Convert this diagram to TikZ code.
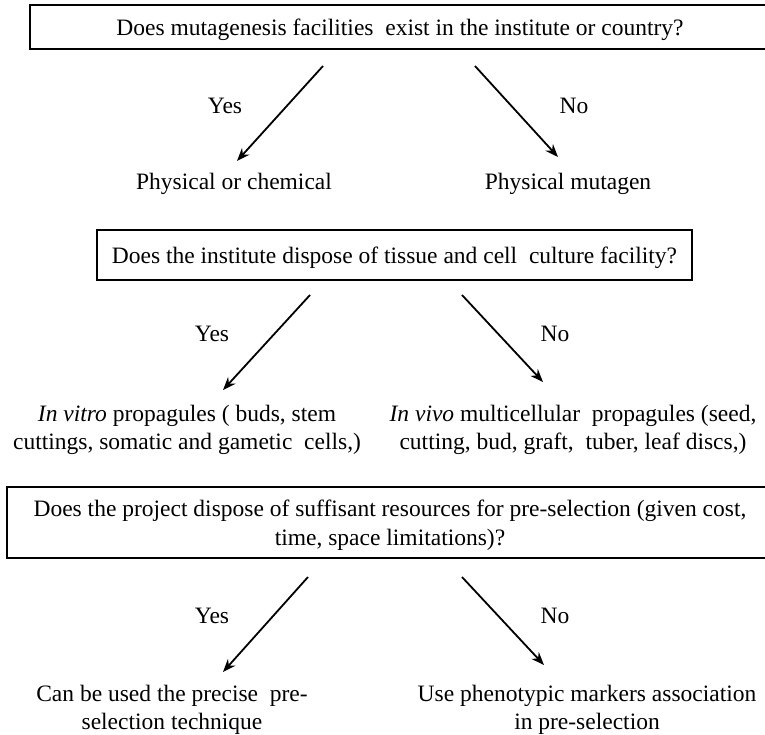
\documentclass[tikz,border=0pt]{standalone}
\usepackage{fontspec}
\setmainfont{Liberation Serif}
\usetikzlibrary{arrows.meta,positioning}

\begin{document}
\begin{tikzpicture}[
  x=1pt,y=-1pt,
  qbox/.style={rectangle,draw=black,line width=2pt,align=center,inner sep=0pt,text depth=0pt,font=\fontsize{23.5}{29.5}\selectfont},
  ans/.style={align=center,inner sep=0pt,anchor=base,font=\fontsize{23.5}{28}\selectfont},
  lbl/.style={inner sep=0pt,anchor=base,font=\fontsize{23.5}{28}\selectfont},
  arr/.style={-{Stealth[length=13pt,width=10pt]},line width=1.8pt}
]
\useasboundingbox (0,0) rectangle (765,734);

% first question
\node[qbox,minimum width=740pt,minimum height=44pt] (qfac) at (400,27) {Does mutagenesis facilities\ \ exist in the institute or country?};
\node[ans] (phych) at (234,189) {Physical or chemical};
\node[ans] (phymut) at (568,189) {Physical mutagen};
\coordinate (facyes) at (323,66);
\coordinate (facyesend) at (237,161);
\coordinate (facno) at (475,66);
\coordinate (facnoend) at (558,157);
\node[lbl] (facyeslbl) at (225,113) {Yes};
\node[lbl] (facnolbl) at (574,113) {No};
\draw[arr] (facyes) -- (facyesend);
\draw[arr] (facno) -- (facnoend);

% second question
\node[qbox,minimum width=595pt,minimum height=50pt] (qcult) at (394.5,255) {Does the institute dispose of tissue and cell\ \ culture facility?};
\node[ans] (vitro) at (187,449) {\textit{In vitro} propagules ( buds, stem\\cuttings, somatic and gametic\ \ cells,)};
\node[ans] (vivo) at (573,449) {\textit{In vivo} multicellular\ \ propagules (seed,\\cutting, bud, graft,\ \ tuber, leaf discs,)};
\coordinate (cultyes) at (310,295);
\coordinate (cultyesend) at (223,390);
\coordinate (cultno) at (462,295);
\coordinate (cultnoend) at (543,382);
\node[lbl] (cultyeslbl) at (212,341) {Yes};
\node[lbl] (cultnolbl) at (555,341) {No};
\draw[arr] (cultyes) -- (cultyesend);
\draw[arr] (cultno) -- (cultnoend);

% third question
\node[qbox,minimum width=766pt,minimum height=71pt] (qres) at (390,522.5) {Does the project dispose of suffisant resources for pre-selection (given cost,\\time, space limitations)?};
\node[ans] (precise) at (172,729) {Can be used the precise\ \ pre-\\selection technique};
\node[ans] (markers) at (587,729) {Use phenotypic markers association\\in pre-selection};
\coordinate (resyes) at (308,577);
\coordinate (resyesend) at (223,672);
\coordinate (resno) at (462,577);
\coordinate (resnoend) at (544,665);
\node[lbl] (resyeslbl) at (212,623) {Yes};
\node[lbl] (resnolbl) at (555,623) {No};
\draw[arr] (resyes) -- (resyesend);
\draw[arr] (resno) -- (resnoend);
\end{tikzpicture}
\end{document}
